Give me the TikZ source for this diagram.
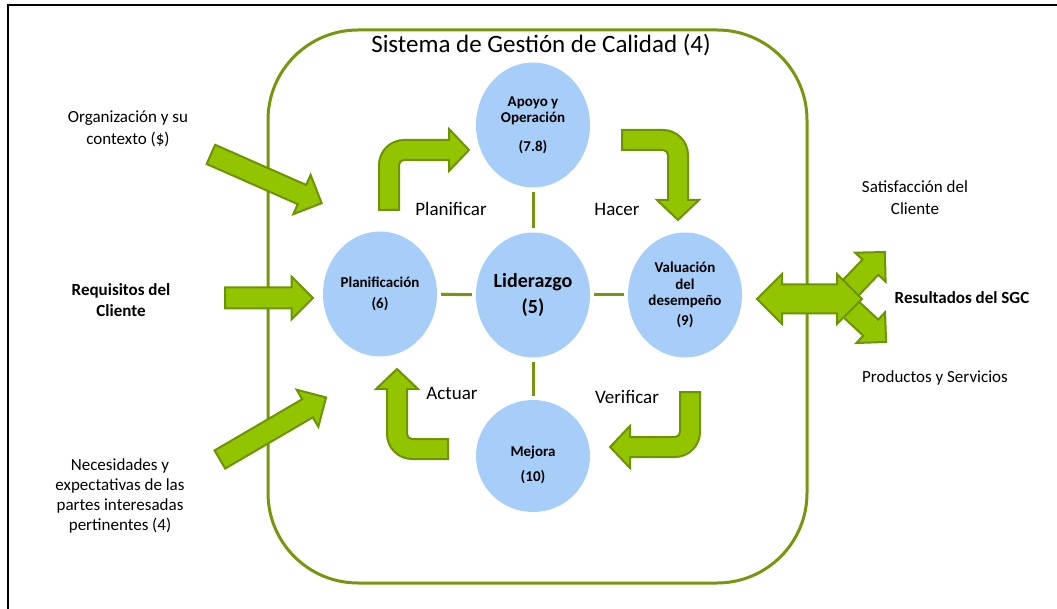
\documentclass[tikz,border=0pt]{standalone}
\usepackage{fontspec}
\setmainfont{Carlito}
\usetikzlibrary{shapes.geometric,shapes.arrows,positioning}

\definecolor{bubblecol}{RGB}{166,206,248}
\definecolor{arrowfill}{RGB}{146,196,0}
\definecolor{arrowline}{RGB}{108,148,0}
\definecolor{sgcgreen}{RGB}{118,150,14}

\tikzset{
	bubble/.style={ellipse, fill=bubblecol, minimum width=114pt, minimum height=125pt, inner sep=0pt, align=center, font=\bfseries\fontsize{15}{16.5}\selectfont},
	link/.style={draw=sgcgreen, line width=3pt, shorten <=4pt, shorten >=4pt},
	bigarrow/.style={single arrow, fill=arrowfill, draw=arrowline, line width=2pt, inner xsep=0pt, inner ysep=9.5pt, single arrow head extend=11pt, anchor=tail},
	bentstyle/.style={fill=arrowfill, draw=arrowline, line width=2pt},
	txt/.style={align=center, font=\fontsize{17}{22}\selectfont},
	boldtxt/.style={align=center, font=\bfseries\fontsize{17}{21}\selectfont},
	steptxt/.style={font=\fontsize{19}{22}\selectfont}
}

% bent block arrow, tail at origin, going up then right
\newcommand{\bentarrow}[1]{%
	\draw[bentstyle] (-10,0) -- (-10,{-#1+15})
	.. controls (-10,{-#1+1.25}) and (1.25,{-#1-10}) .. (15,{-#1-10})
	-- (60,{-#1-10}) -- (60,{-#1-21}) -- (80,{-#1}) -- (60,{-#1+21}) -- (60,{-#1+10})
	-- (15,{-#1+10}) .. controls (12.25,{-#1+10}) and (10,{-#1+12.25}) .. (10,{-#1+15})
	-- (10,0) -- cycle;}

\begin{document}
\begin{tikzpicture}[x=1pt, y=-1pt]
	
	\useasboundingbox (0,0) rectangle (1057,609);
	\draw[line width=1.5pt] (8,612) -- (8,5) -- (1060,5);
	
	% system box
	\draw[sgcgreen, line width=3pt, rounded corners=90pt] (268,30) rectangle (807,583);
	\node (title) at (541,45) {\fontsize{25}{30}\selectfont Sistema de Gestión de Calidad (4)};
	
	\node[bubble] (apoyo) at (533,125) {Apoyo y\\Operación\\[12pt](7.8)};
	\node[bubble] (plan) at (380,294) {Planificación\\[4pt](6)};
	\node[bubble, font=\bfseries\fontsize{20}{26}\selectfont] (lider) at (533,295) {Liderazgo\\(5)};
	\node[bubble] (valua) at (685,295) {Valuación\\del\\desempeño\\[3pt](9)};
	\node[bubble, minimum height=112pt] (mejora) at (533,456) {};
	\node[align=center, font=\bfseries\fontsize{15}{16.5}\selectfont] (mejoratxt) at (533,465) {Mejora\\[9pt](10)};
	
	\draw[link] (lider) -- (apoyo);
	\draw[link] (lider) -- (plan);
	\draw[link] (lider) -- (valua);
	\draw[link] (lider) -- (mejora);
	
	\node[steptxt] (planificar) at (451,209) {Planificar};
	\node[steptxt] (hacer) at (617,209) {Hacer};
	\node[steptxt] (verificar) at (627,397) {Verificar};
	\node[steptxt] (actuar) at (452,393) {Actuar};
	
	% PDCA arrows
	\begin{scope}[shift={(389,210)}]
		\bentarrow{60}
	\end{scope}
	\begin{scope}[shift={(622,140)}, rotate=-90]
		\bentarrow{56}
	\end{scope}
	\begin{scope}[shift={(690,392)}, rotate=180]
		\bentarrow{55}
	\end{scope}
	\begin{scope}[shift={(448,449)}, rotate=90]
		\bentarrow{51}
	\end{scope}
	
	% inputs
	\node[txt] (org) at (128,129) {Organización y su\\contexto (\$)};
	\node[boldtxt] (req) at (121,300) {Requisitos del\\Cliente};
	\node[txt, font=\fontsize{17}{19.7}\selectfont] (nec) at (120,496) {Necesidades y\\expectativas de las\\partes interesadas\\pertinentes (4)};
	
	\node[bigarrow, minimum height=121pt, rotate=-23.8] (a1) at (210,154) {};
	\node[bigarrow, minimum height=88pt] (a2) at (224,298) {};
	\node[bigarrow, minimum height=123pt, rotate=30.3] (a3) at (219,460) {};
	
	% outputs
	\node[bigarrow, inner ysep=10pt, single arrow head extend=10pt, minimum height=64pt, rotate=46.3] (a4) at (840,299) {};
	\node[bigarrow, inner ysep=10pt, single arrow head extend=10pt, minimum height=62pt, rotate=-43] (a5) at (840,299) {};
	\node[double arrow, fill=arrowfill, draw=arrowline, line width=2pt, inner xsep=0pt, inner ysep=13.5pt, double arrow head extend=10.5pt, minimum height=105pt] (a6) at (809.5,299) {};
	
	\node[txt] (satis) at (915,198) {Satisfacción del\\Cliente};
	\node[boldtxt] (result) at (962,298) {Resultados del SGC};
	\node[txt] (prod) at (935,378) {Productos y Servicios};
	
\end{tikzpicture}
\end{document}
